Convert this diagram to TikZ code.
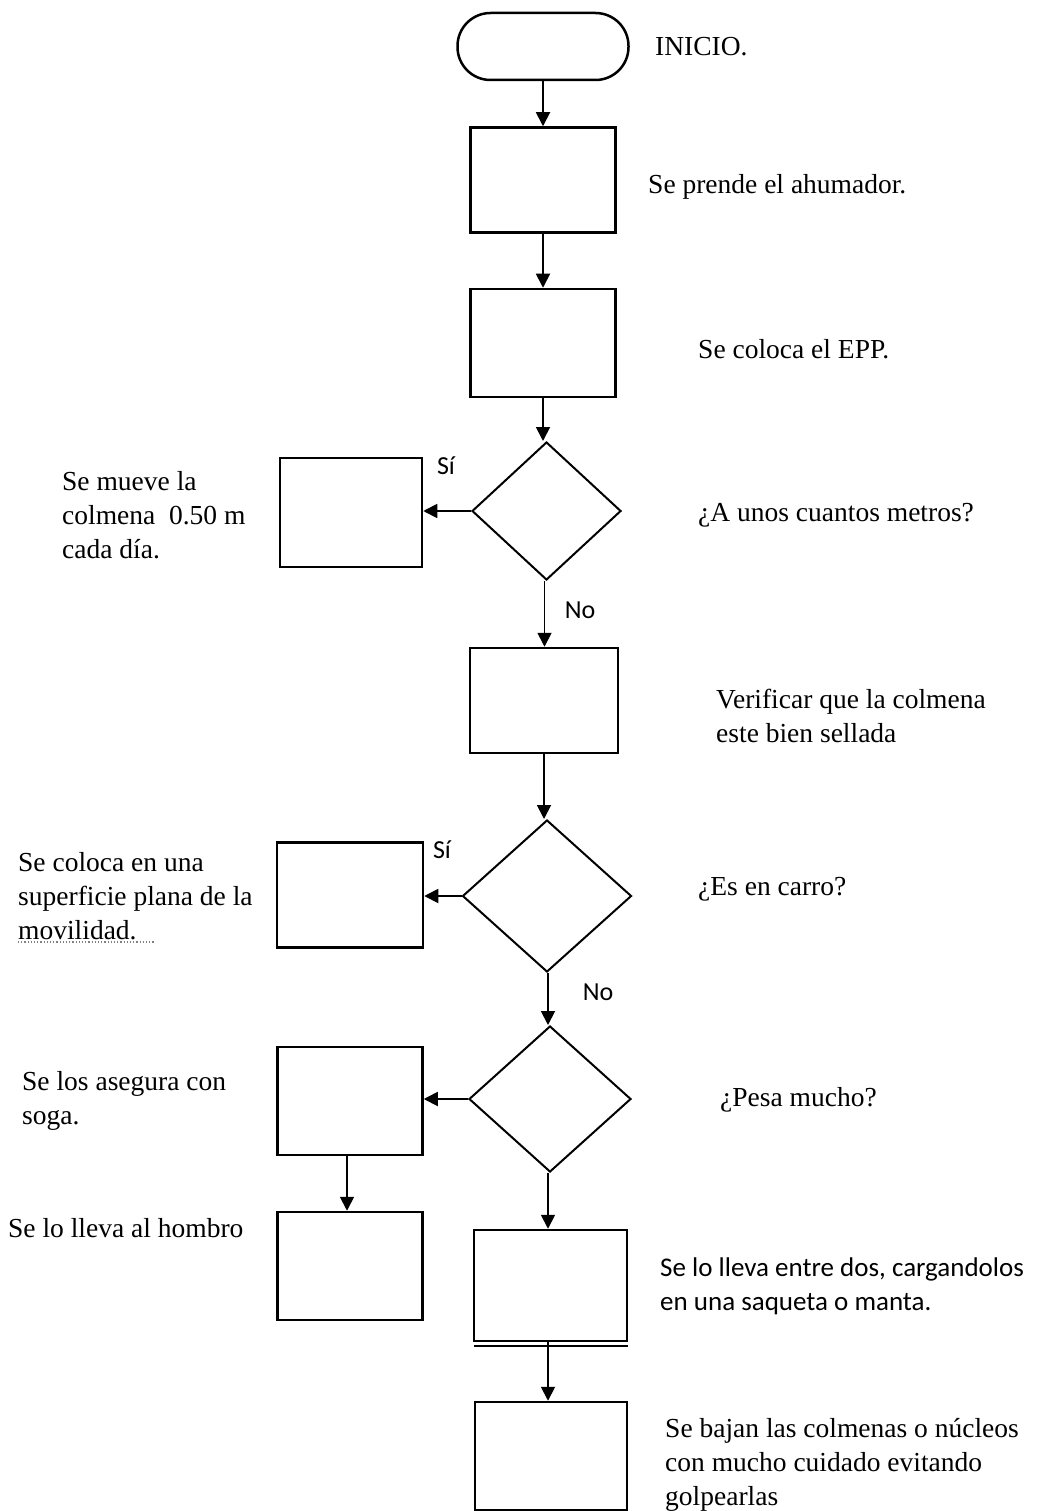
\documentclass[tikz,border=0pt]{standalone}
\usepackage{fontspec}
\setmainfont{Liberation Serif}
\newfontfamily\calibri{Carlito}
\usetikzlibrary{shapes.geometric,arrows.meta}

\begin{document}
\begin{tikzpicture}[x=1pt,y=-1pt,
  box/.style={draw,line width=2.5pt,inner sep=0pt},
  dia/.style={draw,diamond,line width=2pt,inner sep=0pt},
  arr/.style={line width=1.8pt,-{Triangle[length=14pt,width=14pt]}},
  txt/.style={font=\fontsize{27.5}{34}\selectfont,inner sep=0pt,align=left,anchor=west},
  ctxt/.style={font=\calibri\fontsize{27}{34}\selectfont,inner sep=0pt,align=left,anchor=west},
  lbl/.style={font=\calibri\fontsize{26}{30}\selectfont,inner sep=0pt}]
\useasboundingbox[fill=white] (0,0) rectangle (1039,1511);

% main column
\node[box,rounded corners=33pt,minimum width=171pt,minimum height=67pt] (start) at (543,46.5) {};
\node[box,minimum width=145pt,minimum height=105pt] (b1) at (543,180) {};
\node[box,minimum width=145pt,minimum height=108pt] (b2) at (543,343) {};
\node[dia,minimum width=149pt,minimum height=138pt] (d1) at (546.5,511) {};
\node[box,minimum width=148pt,minimum height=105pt] (b3) at (544,700.5) {};
\node[dia,minimum width=169pt,minimum height=152pt] (d2) at (547,896) {};
\node[dia,minimum width=162pt,minimum height=146pt] (d3) at (550,1099) {};
\node[box,minimum width=153pt,minimum height=111pt] (e) at (550.5,1285.5) {};
\node[box,minimum width=152pt,minimum height=108pt] (f) at (551,1456) {};

% side column
\node[box,minimum width=142pt,minimum height=109pt] (a) at (351,512.5) {};
\node[box,minimum width=146pt,minimum height=105pt] (b) at (350,895) {};
\node[box,minimum width=145pt,minimum height=108pt] (c) at (350,1101) {};
\node[box,minimum width=145pt,minimum height=108pt] (d) at (350,1266) {};

% second rule under the carrying step
\coordinate (rl) at (474,1346);
\coordinate (rr) at (628,1346);
\draw[line width=1.6pt] (rl) -- (rr);

% connectors
\draw[arr] (start.south) -- (start.south |- b1.north);
\draw[arr] (b1.south) -- (b1.south |- b2.north);
\draw[arr] (b2.south) -- (b2.south |- d1.north);
\draw[arr] ([xshift=-2pt]d1.south) -- ([xshift=-2pt]d1.south |- b3.north);
\draw[arr] (b3.south) -- (b3.south |- d2.north);
\draw[arr] ([xshift=1pt]d2.south) -- ([xshift=1pt]d2.south |- d3.north);
\draw[arr] ([xshift=-2pt]d3.south) -- ([xshift=-2pt]d3.south |- e.north);
\draw[arr] ([xshift=-2.5pt]e.south) -- ([xshift=-2.5pt]e.south |- f.north);
\draw[arr] (d1.west) -- (d1.west -| a.east);
\draw[arr] (d2.west) -- (d2.west -| b.east);
\draw[arr] (d3.west) -- (d3.west -| c.east);
\draw[arr] ([xshift=-3pt]c.south) -- ([xshift=-3pt]c.south |- d.north);

% branch labels
\node[lbl] (si1) at (446,466) {Sí};
\node[lbl] (no1) at (580,610) {No};
\node[lbl] (si2) at (442,850) {Sí};
\node[lbl] (no2) at (598,992) {No};

% step descriptions
\node[txt] (tstart) at (655,47) {INICIO.};
\node[txt] (t1) at (648,187) {Se prende el ahumador.};
\node[txt] (t2) at (698,349) {Se coloca el EPP.};
\node[txt] (t3) at (698,515) {¿A unos cuantos metros?};
\node[txt] (ta) at (62,515) {Se mueve la\\colmena\ \ 0.50 m\\cada día.};
\node[txt] (t4) at (716,716) {Verificar que la colmena\\este bien sellada};
\node[txt] (t5) at (698,889) {¿Es en carro?};
\node[txt] (tb) at (18,896) {Se coloca en una\\superficie plana de la\\movilidad.};
\draw[gray,line width=1.2pt,dotted] ([yshift=-2pt]tb.south west) -- ++(136,0);
\node[txt] (t6) at (720,1100) {¿Pesa mucho?};
\node[txt] (tc) at (22,1101) {Se los asegura con\\soga.};
\node[txt] (td) at (8,1228) {Se lo lleva al hombro};
\node[ctxt] (te) at (660,1286) {Se lo lleva entre dos, cargandolos\\en una saqueta o manta.};
\node[txt] (tf) at (665,1465) {Se bajan las colmenas o núcleos\\con mucho cuidado evitando\\golpearlas};
\end{tikzpicture}
\end{document}
